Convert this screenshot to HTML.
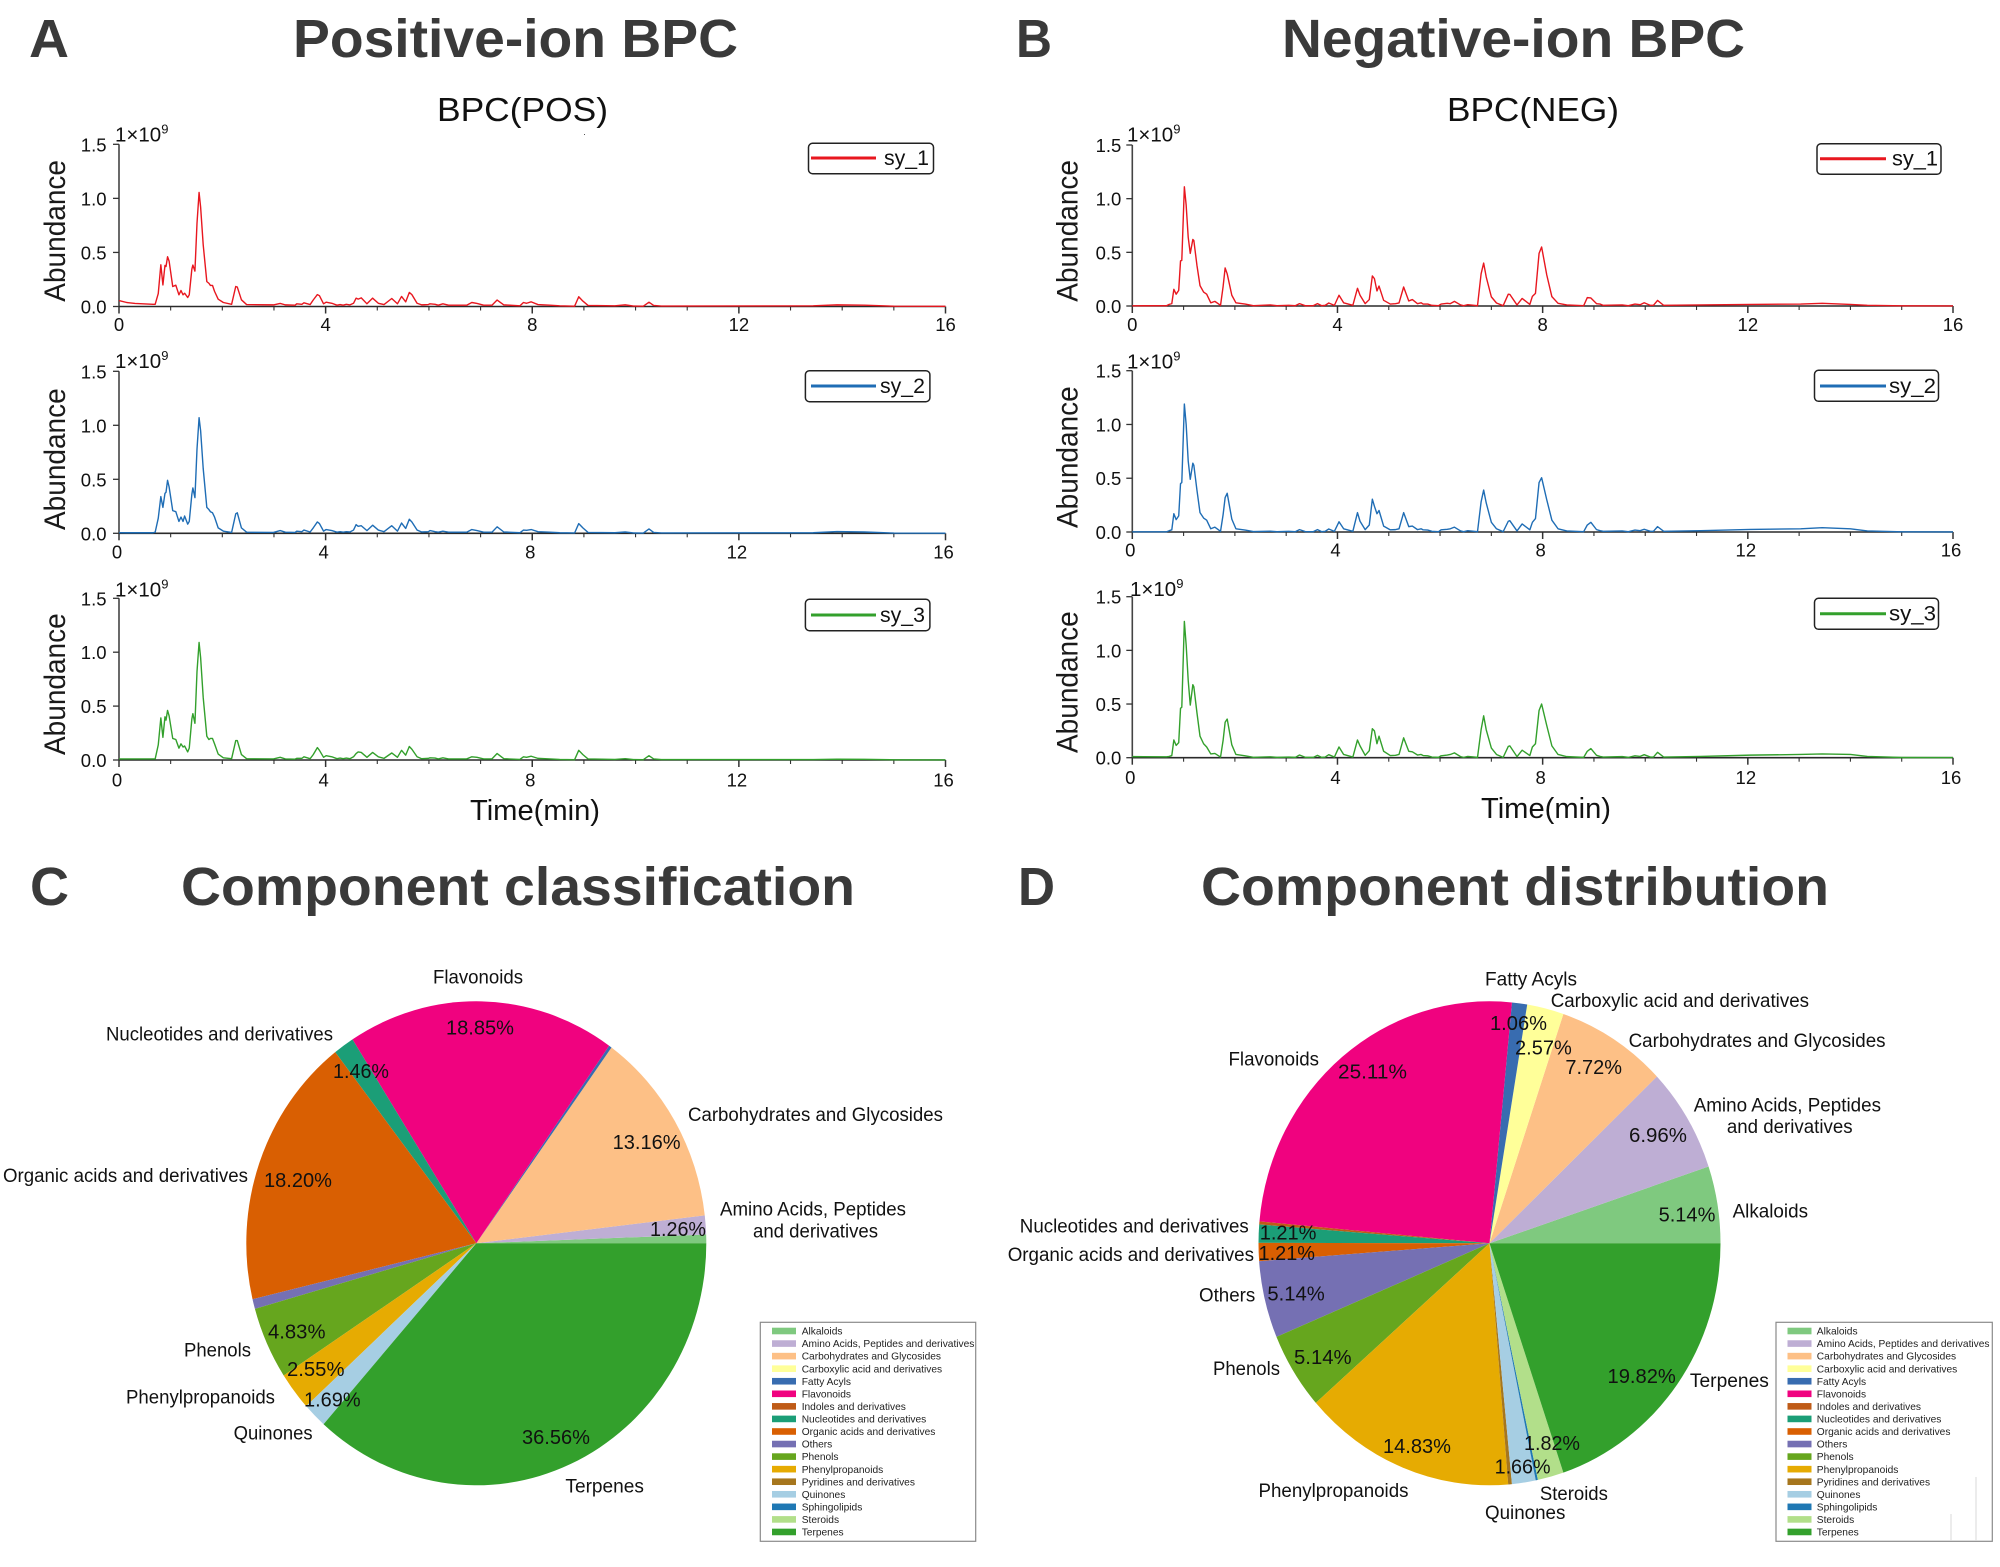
<!DOCTYPE html>
<html lang="en">
<head>
<meta charset="utf-8">
<title>BPC chromatograms and component pie charts</title>
<style>
html,body{margin:0;padding:0;background:#fff;}
svg{display:block;font-family:"Liberation Sans",Arial,sans-serif;}
.head{font-weight:700;font-size:54px;fill:#3a3a3a;}
.sub{font-size:33px;fill:#111;}
.ylab{font-size:30px;fill:#1a1a1a;}
.xlab{font-size:29px;fill:#111;}
.mult{font-size:20.5px;fill:#111;}
.leg{font-size:21px;fill:#111;}
.lab{font-size:19px;fill:#111;}
.pct{font-size:20px;fill:#111;}
</style>
</head>
<body>
<svg id="figure" xmlns="http://www.w3.org/2000/svg" width="2000" height="1567" viewBox="0 0 2000 1567">
<rect width="2000" height="1567" fill="#fff"/>

<text class="head" x="29" y="57" textLength="40" lengthAdjust="spacingAndGlyphs">A</text>
<text class="head" x="293" y="57" textLength="445" lengthAdjust="spacingAndGlyphs">Positive-ion BPC</text>
<text class="head" x="1016" y="57" textLength="36" lengthAdjust="spacingAndGlyphs">B</text>
<text class="head" x="1282" y="57" textLength="463" lengthAdjust="spacingAndGlyphs">Negative-ion BPC</text>
<text class="head" x="30" y="905" textLength="39" lengthAdjust="spacingAndGlyphs">C</text>
<text class="head" x="181" y="905" textLength="674" lengthAdjust="spacingAndGlyphs">Component classification</text>
<text class="head" x="1018" y="905" textLength="37" lengthAdjust="spacingAndGlyphs">D</text>
<text class="head" x="1201" y="905" textLength="628" lengthAdjust="spacingAndGlyphs">Component distribution</text>

<text class="sub" x="437" y="121" textLength="171" lengthAdjust="spacingAndGlyphs">BPC(POS)</text>
<text class="sub" x="1447" y="121" textLength="172" lengthAdjust="spacingAndGlyphs">BPC(NEG)</text>
<rect x="584" y="134" width="1" height="1" fill="#555"/>

<g id="axes-layer"></g>
<g id="lines-layer"></g>

<!-- y axis titles -->
<text class="ylab" transform="translate(65,301.7) rotate(-90)" textLength="141.7" lengthAdjust="spacingAndGlyphs">Abundance</text>
<text class="ylab" transform="translate(65,530) rotate(-90)" textLength="141.7" lengthAdjust="spacingAndGlyphs">Abundance</text>
<text class="ylab" transform="translate(65,755) rotate(-90)" textLength="141.7" lengthAdjust="spacingAndGlyphs">Abundance</text>
<text class="ylab" transform="translate(1077.5,301.7) rotate(-90)" textLength="141.7" lengthAdjust="spacingAndGlyphs">Abundance</text>
<text class="ylab" transform="translate(1077.5,528) rotate(-90)" textLength="141.7" lengthAdjust="spacingAndGlyphs">Abundance</text>
<text class="ylab" transform="translate(1077.5,753) rotate(-90)" textLength="141.7" lengthAdjust="spacingAndGlyphs">Abundance</text>

<!-- x axis titles -->
<text class="xlab" x="470" y="820" textLength="130" lengthAdjust="spacingAndGlyphs">Time(min)</text>
<text class="xlab" x="1481" y="818" textLength="130" lengthAdjust="spacingAndGlyphs">Time(min)</text>

<!-- scale multipliers -->
<text class="mult" x="115" y="141.5">1×10<tspan dy="-8" font-size="13">9</tspan></text>
<text class="mult" x="115" y="368">1×10<tspan dy="-8" font-size="13">9</tspan></text>
<text class="mult" x="115" y="596.7">1×10<tspan dy="-8" font-size="13">9</tspan></text>
<text class="mult" x="1127" y="141.7">1×10<tspan dy="-8" font-size="13">9</tspan></text>
<text class="mult" x="1127" y="368.3">1×10<tspan dy="-8" font-size="13">9</tspan></text>
<text class="mult" x="1130" y="596">1×10<tspan dy="-8" font-size="13">9</tspan></text>

<!-- trace legends -->
<g>
<rect x="808.5" y="143.3" width="125" height="30.4" rx="4" fill="#fff" stroke="#222" stroke-width="1.5"/>
<line x1="811" y1="158" x2="876" y2="158" stroke="#e8171f" stroke-width="3"/>
<text class="leg" x="884" y="165" textLength="45" lengthAdjust="spacingAndGlyphs">sy_1</text>
</g>
<g>
<rect x="805.4" y="370.7" width="124.5" height="31" rx="4" fill="#fff" stroke="#222" stroke-width="1.5"/>
<line x1="811" y1="386" x2="876" y2="386" stroke="#1f6db5" stroke-width="3"/>
<text class="leg" x="880" y="393" textLength="45" lengthAdjust="spacingAndGlyphs">sy_2</text>
</g>
<g>
<rect x="805.4" y="599.3" width="124.5" height="31.4" rx="4" fill="#fff" stroke="#222" stroke-width="1.5"/>
<line x1="811" y1="615" x2="876" y2="615" stroke="#33a02c" stroke-width="3"/>
<text class="leg" x="880" y="622" textLength="45" lengthAdjust="spacingAndGlyphs">sy_3</text>
</g>
<g>
<rect x="1817" y="143.7" width="124" height="30.6" rx="4" fill="#fff" stroke="#222" stroke-width="1.5"/>
<line x1="1820" y1="158.7" x2="1886" y2="158.7" stroke="#e8171f" stroke-width="3"/>
<text class="leg" x="1892" y="165.5" textLength="46" lengthAdjust="spacingAndGlyphs">sy_1</text>
</g>
<g>
<rect x="1814.5" y="370.3" width="124" height="31" rx="4" fill="#fff" stroke="#222" stroke-width="1.5"/>
<line x1="1820" y1="386" x2="1886" y2="386" stroke="#1f6db5" stroke-width="3"/>
<text class="leg" x="1889" y="393" textLength="47" lengthAdjust="spacingAndGlyphs">sy_2</text>
</g>
<g>
<rect x="1814.5" y="598.3" width="124" height="31" rx="4" fill="#fff" stroke="#222" stroke-width="1.5"/>
<line x1="1820" y1="613.7" x2="1886" y2="613.7" stroke="#33a02c" stroke-width="3"/>
<text class="leg" x="1889" y="620.7" textLength="47" lengthAdjust="spacingAndGlyphs">sy_3</text>
</g>

<g id="pie-c"></g>
<g id="pie-d"></g>

<!-- Pie C category labels -->
<g>
<text class="lab" x="433" y="983.5" textLength="90" lengthAdjust="spacingAndGlyphs">Flavonoids</text>
<text class="lab" x="106" y="1040.5" textLength="227" lengthAdjust="spacingAndGlyphs">Nucleotides and derivatives</text>
<text class="lab" x="688" y="1121" textLength="255" lengthAdjust="spacingAndGlyphs">Carbohydrates and Glycosides</text>
<text class="lab" x="3" y="1182" textLength="245" lengthAdjust="spacingAndGlyphs">Organic acids and derivatives</text>
<text class="lab" x="720" y="1215.7" textLength="186" lengthAdjust="spacingAndGlyphs">Amino Acids, Peptides</text>
<text class="lab" x="753" y="1237.4" textLength="125" lengthAdjust="spacingAndGlyphs">and derivatives</text>
<text class="lab" x="184" y="1356.7" textLength="67" lengthAdjust="spacingAndGlyphs">Phenols</text>
<text class="lab" x="126" y="1403.5" textLength="149" lengthAdjust="spacingAndGlyphs">Phenylpropanoids</text>
<text class="lab" x="233.6" y="1439.4" textLength="79" lengthAdjust="spacingAndGlyphs">Quinones</text>
<text class="lab" x="565.4" y="1492.5" textLength="78.6" lengthAdjust="spacingAndGlyphs">Terpenes</text>
</g>

<!-- Pie D category labels -->
<g>
<text class="lab" x="1485" y="985.4" textLength="92" lengthAdjust="spacingAndGlyphs">Fatty Acyls</text>
<text class="lab" x="1550.7" y="1007" textLength="258.3" lengthAdjust="spacingAndGlyphs">Carboxylic acid and derivatives</text>
<text class="lab" x="1628.6" y="1047" textLength="257" lengthAdjust="spacingAndGlyphs">Carbohydrates and Glycosides</text>
<text class="lab" x="1228.5" y="1065.4" textLength="90.5" lengthAdjust="spacingAndGlyphs">Flavonoids</text>
<text class="lab" x="1693.7" y="1111.4" textLength="187.3" lengthAdjust="spacingAndGlyphs">Amino Acids, Peptides</text>
<text class="lab" x="1726.9" y="1133" textLength="125.7" lengthAdjust="spacingAndGlyphs">and derivatives</text>
<text class="lab" x="1732.6" y="1217.7" textLength="75.4" lengthAdjust="spacingAndGlyphs">Alkaloids</text>
<text class="lab" x="1019.8" y="1232.3" textLength="229" lengthAdjust="spacingAndGlyphs">Nucleotides and derivatives</text>
<text class="lab" x="1007.7" y="1261" textLength="246.3" lengthAdjust="spacingAndGlyphs">Organic acids and derivatives</text>
<text class="lab" x="1199" y="1301.6" textLength="56.3" lengthAdjust="spacingAndGlyphs">Others</text>
<text class="lab" x="1213" y="1375" textLength="67" lengthAdjust="spacingAndGlyphs">Phenols</text>
<text class="lab" x="1689.9" y="1387" textLength="79" lengthAdjust="spacingAndGlyphs">Terpenes</text>
<text class="lab" x="1258.5" y="1497" textLength="150" lengthAdjust="spacingAndGlyphs">Phenylpropanoids</text>
<text class="lab" x="1539.9" y="1500" textLength="68" lengthAdjust="spacingAndGlyphs">Steroids</text>
<text class="lab" x="1485" y="1519" textLength="80.4" lengthAdjust="spacingAndGlyphs">Quinones</text>
</g>

<!-- Pie C percent labels -->
<g>
<text class="pct" x="446" y="1034.6" textLength="68" lengthAdjust="spacingAndGlyphs">18.85%</text>
<text class="pct" x="333" y="1078" textLength="56" lengthAdjust="spacingAndGlyphs">1.46%</text>
<text class="pct" x="612.6" y="1148.8" textLength="68" lengthAdjust="spacingAndGlyphs">13.16%</text>
<text class="pct" x="264" y="1187" textLength="68" lengthAdjust="spacingAndGlyphs">18.20%</text>
<text class="pct" x="650" y="1236" textLength="56" lengthAdjust="spacingAndGlyphs">1.26%</text>
<text class="pct" x="268" y="1338.6" textLength="57.5" lengthAdjust="spacingAndGlyphs">4.83%</text>
<text class="pct" x="287" y="1376" textLength="57.5" lengthAdjust="spacingAndGlyphs">2.55%</text>
<text class="pct" x="304" y="1406.7" textLength="56.6" lengthAdjust="spacingAndGlyphs">1.69%</text>
<text class="pct" x="522" y="1444" textLength="68" lengthAdjust="spacingAndGlyphs">36.56%</text>
</g>

<!-- Pie D percent labels -->
<g>
<text class="pct" x="1490" y="1030" textLength="57" lengthAdjust="spacingAndGlyphs">1.06%</text>
<text class="pct" x="1515" y="1054.3" textLength="56.8" lengthAdjust="spacingAndGlyphs">2.57%</text>
<text class="pct" x="1565.4" y="1074" textLength="56.6" lengthAdjust="spacingAndGlyphs">7.72%</text>
<text class="pct" x="1338" y="1078.3" textLength="69" lengthAdjust="spacingAndGlyphs">25.11%</text>
<text class="pct" x="1629" y="1142" textLength="58" lengthAdjust="spacingAndGlyphs">6.96%</text>
<text class="pct" x="1658.6" y="1221.7" textLength="56.8" lengthAdjust="spacingAndGlyphs">5.14%</text>
<text class="pct" x="1259.7" y="1239.4" textLength="56.8" lengthAdjust="spacingAndGlyphs">1.21%</text>
<text class="pct" x="1258.5" y="1260" textLength="56.5" lengthAdjust="spacingAndGlyphs">1.21%</text>
<text class="pct" x="1267.4" y="1300.4" textLength="57.4" lengthAdjust="spacingAndGlyphs">5.14%</text>
<text class="pct" x="1294" y="1364" textLength="57.6" lengthAdjust="spacingAndGlyphs">5.14%</text>
<text class="pct" x="1607.5" y="1383" textLength="68.3" lengthAdjust="spacingAndGlyphs">19.82%</text>
<text class="pct" x="1383" y="1452.8" textLength="68" lengthAdjust="spacingAndGlyphs">14.83%</text>
<text class="pct" x="1524" y="1450" textLength="56" lengthAdjust="spacingAndGlyphs">1.82%</text>
<text class="pct" x="1494.6" y="1473.6" textLength="56" lengthAdjust="spacingAndGlyphs">1.66%</text>
</g>

<g id="pie-legend-c"></g>
<g id="pie-legend-d"></g>
<line x1="1976" y1="1477" x2="1976" y2="1541" stroke="#d9d9d9" stroke-width="1"/>
<line x1="1951" y1="1514" x2="1951" y2="1541" stroke="#d9d9d9" stroke-width="1"/>
</svg>

<script>
var xTickValues = [0,1,2,3,4,5,6,7,8,9,10,11,12,13,14,15,16];
var xTickLabelValues = [0,4,8,12,16];
var yTickValues = [0,0.5,1,1.5];
var yTickLabels = ['0.0','0.5','1.0','1.5'];

var timePos = [
0,.15,.31,.66,.70,.76,.81,.85,.89,.91,
.94,.97,1.04,1.10,1.16,1.20,1.24,1.27,1.33,1.36,
1.41,1.43,1.47,1.51,1.55,1.58,1.63,1.70,1.74,1.77,
1.81,1.85,1.92,2.02,2.18,2.26,2.29,2.37,2.47,2.99,
3.12,3.22,3.41,3.44,3.54,3.58,3.70,3.76,3.84,3.88,
3.96,4.01,4.12,4.22,4.28,4.34,4.40,4.47,4.54,4.59,
4.63,4.69,4.80,4.91,5.02,5.13,5.28,5.39,5.47,5.55,
5.62,5.67,5.77,5.86,5.99,6.02,6.12,6.18,6.27,6.38,
6.73,6.83,6.93,7.06,7.22,7.32,7.45,7.76,7.83,7.89,
7.98,8.11,8.34,8.53,8.82,8.90,8.98,9.08,9.60,9.80,
9.96,10.15,10.26,10.35,10.50,13.44,13.90,14.43,15.00,16.00];

var posSy1 = [
.055,.037,.028,.02,.02,.12,.385,.20,.38,.37,
.46,.42,.185,.197,.108,.148,.108,.123,.083,.108,
.345,.383,.327,.77,1.055,.92,.57,.23,.215,.195,
.195,.14,.068,.037,.02,.185,.18,.062,.018,.015,
.028,.015,.012,.025,.02,.034,.018,.06,.11,.10,
.025,.04,.03,.012,.018,.012,.02,.015,.03,.077,
.068,.08,.025,.077,.03,.018,.074,.025,.093,.043,
.13,.11,.03,.015,.018,.025,.02,.012,.025,.012,
.012,.037,.028,.012,.012,.06,.015,.006,.037,.03,
.043,.018,.012,.006,.003,.09,.05,.01,.006,.015,
.004,.003,.04,.01,.004,.006,.015,.012,.003,.002];

var posSy2 = [
.006,.005,.005,.005,.01,.14,.34,.24,.37,.38,
.49,.43,.21,.20,.11,.15,.11,.16,.085,.11,
.36,.42,.33,.78,1.07,.95,.60,.24,.22,.20,
.19,.15,.05,.02,.008,.18,.19,.05,.01,.008,
.025,.01,.008,.02,.015,.03,.012,.05,.105,.09,
.02,.035,.025,.01,.015,.01,.015,.012,.03,.08,
.065,.07,.025,.075,.03,.015,.07,.02,.095,.045,
.13,.105,.03,.012,.015,.025,.015,.01,.02,.01,
.01,.035,.025,.01,.01,.06,.012,.005,.03,.028,
.035,.015,.01,.005,.003,.09,.05,.008,.005,.012,
.003,.002,.04,.008,.003,.005,.016,.012,.002,.001];

var posSy3 = [
.01,.01,.01,.01,.01,.14,.39,.21,.40,.37,
.46,.41,.20,.19,.11,.15,.12,.13,.075,.11,
.38,.43,.34,.82,1.09,.95,.58,.22,.19,.20,
.20,.15,.055,.02,.012,.18,.18,.05,.012,.01,
.025,.01,.008,.015,.015,.03,.012,.05,.115,.09,
.025,.04,.03,.012,.018,.012,.018,.012,.03,.06,
.075,.07,.025,.07,.03,.015,.065,.025,.09,.045,
.125,.10,.03,.012,.015,.02,.018,.01,.02,.01,
.01,.03,.025,.01,.01,.06,.012,.005,.03,.025,
.035,.015,.01,.005,.003,.09,.05,.01,.005,.012,
.004,.003,.04,.01,.004,.004,.008,.006,.002,.001];

var timeNeg = [
0,.67,.72,.77,.81,.855,.905,.94,.965,1.015,
1.05,1.09,1.13,1.18,1.20,1.26,1.32,1.39,1.45,1.53,
1.61,1.72,1.77,1.81,1.85,1.94,2.02,2.20,2.36,2.69,
2.82,3.05,3.18,3.26,3.37,3.53,3.61,3.69,3.76,3.83,
3.94,4.03,4.12,4.30,4.39,4.44,4.54,4.62,4.68,4.72,
4.77,4.81,4.90,5.03,5.13,5.20,5.29,5.39,5.46,5.56,
5.63,5.67,5.76,5.84,5.97,6.02,6.14,6.20,6.28,6.40,
6.46,6.54,6.73,6.80,6.85,6.90,7.00,7.10,7.23,7.33,
7.36,7.50,7.60,7.75,7.80,7.86,7.93,7.98,8.08,8.18,
8.30,8.47,8.80,8.87,8.94,9.05,9.12,9.18,9.55,9.67,
9.80,9.90,9.98,10.10,10.16,10.24,10.36,11.08,12.05,13.03,
13.45,14.00,14.33,15.00,16.00];

var negSy1 = [
.002,.003,.015,.022,.155,.11,.146,.42,.425,1.11,
.94,.64,.49,.62,.61,.38,.19,.13,.11,.03,
.043,.006,.18,.354,.30,.10,.03,.018,.003,.01,
.003,.006,.003,.022,.003,.003,.022,.003,.006,.028,
.006,.10,.03,.006,.165,.10,.022,.06,.28,.255,
.14,.186,.053,.018,.022,.028,.177,.047,.06,.022,
.03,.018,.018,.006,.003,.018,.025,.022,.043,.01,
.003,.012,.003,.30,.40,.27,.085,.028,.003,.11,
.108,.01,.07,.015,.09,.118,.49,.55,.29,.087,
.025,.01,.003,.078,.075,.022,.018,.006,.01,.003,
.018,.012,.03,.006,.006,.052,.006,.01,.015,.018,
.025,.015,.006,.002,.001];

var negSy2 = [
.002,.002,.012,.02,.17,.115,.15,.45,.46,1.19,
1.0,.66,.49,.64,.62,.39,.18,.13,.11,.03,
.045,.006,.16,.32,.36,.12,.03,.018,.004,.008,
.003,.006,.003,.022,.004,.003,.022,.003,.006,.028,
.006,.095,.03,.006,.18,.10,.022,.065,.305,.24,
.17,.20,.055,.02,.022,.03,.18,.05,.055,.022,
.03,.02,.018,.006,.003,.02,.025,.03,.045,.01,
.003,.012,.003,.28,.39,.27,.09,.03,.003,.10,
.105,.01,.075,.02,.09,.125,.46,.505,.30,.11,
.03,.01,.003,.065,.09,.022,.012,.006,.01,.003,
.018,.012,.025,.006,.006,.05,.006,.012,.024,.03,
.04,.03,.01,.002,.001];

var negSy3 = [
.01,.008,.012,.02,.165,.115,.14,.46,.47,1.27,
1.05,.72,.49,.68,.66,.42,.20,.13,.10,.035,
.04,.006,.16,.33,.36,.12,.03,.018,.004,.008,
.003,.006,.003,.025,.004,.003,.022,.003,.006,.028,
.006,.10,.03,.006,.165,.11,.022,.065,.27,.25,
.13,.20,.06,.02,.022,.03,.185,.06,.055,.025,
.03,.02,.018,.006,.003,.018,.025,.03,.045,.01,
.003,.012,.003,.26,.39,.26,.09,.03,.003,.105,
.11,.01,.07,.02,.10,.13,.44,.50,.30,.11,
.03,.01,.003,.06,.085,.022,.012,.006,.01,.003,
.018,.012,.028,.006,.006,.05,.006,.012,.024,.03,
.035,.03,.012,.002,.001];

var categories = ['Alkaloids','Amino Acids, Peptides and derivatives','Carbohydrates and Glycosides','Carboxylic acid and derivatives','Fatty Acyls','Flavonoids','Indoles and derivatives','Nucleotides and derivatives','Organic acids and derivatives','Others','Phenols','Phenylpropanoids','Pyridines and derivatives','Quinones','Sphingolipids','Steroids','Terpenes'];
var classificationValues = [0.58,1.26,13.16,0,0.2,18.85,0,1.46,18.20,0.66,4.83,2.55,0,1.69,0,0,36.56];
var distributionValues = [5.14,6.96,7.72,2.57,1.06,25.11,0.2,1.21,1.21,5.14,5.14,14.83,0.26,1.66,0.15,1.82,19.82];
var categoryColors = ['#7fc97f','#beaed4','#fdc086','#ffff99','#386cb0','#f0027f','#bf5b17','#1b9e77','#d95f02','#7570b3','#66a61e','#e6ab02','#a6761d','#a6cee3','#1f78b4','#b2df8a','#33a02c'];

var SVGNS = 'http://www.w3.org/2000/svg';
function make(tag, attrs, parent){
  var el = document.createElementNS(SVGNS, tag);
  for (var k in attrs) el.setAttribute(k, attrs[k]);
  parent.appendChild(el);
  return el;
}

function drawChromatogram(cfg){
  var axes = document.getElementById('axes-layer');
  var lines = document.getElementById('lines-layer');
  function xScale(t){ return cfg.left + (cfg.right - cfg.left) * t / 16; }
  function yScale(v){ return cfg.bottom - (cfg.bottom - cfg.top) * v / 1.5; }

  var yAxis = make('line', {x1:xScale(0), x2:xScale(0), y1:yScale(1.5), y2:yScale(0), stroke:'#444', 'stroke-width':1.6}, axes);
  
  

  yTickValues.forEach(function(v, i){
    var tick = make('line', {x1:xScale(0) - 6, x2:xScale(0), y1:yScale(v), y2:yScale(v), stroke:'#333', 'stroke-width':1.3}, axes);
    
    
    var label = make('text', {x:xScale(0) - cfg.yLabelGap, y:yScale(v) + 7, 'text-anchor':'end', 'font-size':18.5, fill:'#111'}, axes);
    label.textContent = yTickLabels[i];
    
    
  });

  xTickValues.forEach(function(t){
    var major = t % 4 === 0;
    var tick = make('line', {x1:xScale(t), x2:xScale(t), y1:yScale(0), y2:yScale(0) + (major ? 7 : 4), stroke:'#333', 'stroke-width':major ? 1.5 : 1.1}, axes);
    
    
  });
  xTickLabelValues.forEach(function(t){
    var label = make('text', {x:xScale(t) + cfg.xLabelShift, y:cfg.xLabelY, 'text-anchor':'middle', 'font-size':18.5, fill:'#111'}, axes);
    label.textContent = String(t);
    
    
  });

  var d = cfg.time.map(function(t, i){
    return (i ? 'L' : 'M') + xScale(t).toFixed(2) + ' ' + yScale(cfg.values[i]).toFixed(2);
  }).join('');
  var path = make('path', {d:d, fill:'none', stroke:cfg.color, 'stroke-width':1.4, 'stroke-linejoin':'round'}, lines);
  
  

  var xAxis = make('line', {x1:xScale(0), x2:xScale(16), y1:yScale(0), y2:yScale(0), stroke:'#2a2a2a', 'stroke-width':1.6}, axes);
  
  
}

drawChromatogram({id:'a1', left:119, right:945.5, top:144.3, bottom:306.5, xLabelY:331, xLabelShift:0, yLabelGap:12.5, color:'#e8171f', time:timePos, values:posSy1});
drawChromatogram({id:'a2', left:119, right:945.5, top:371.3, bottom:533.3, xLabelY:558.3, xLabelShift:-2, yLabelGap:12.5, color:'#1f6db5', time:timePos, values:posSy2});
drawChromatogram({id:'a3', left:119, right:945.5, top:598.3, bottom:760, xLabelY:786.7, xLabelShift:-2, yLabelGap:12.5, color:'#33a02c', time:timePos, values:posSy3});
drawChromatogram({id:'b1', left:1132.3, right:1953, top:145, bottom:306, xLabelY:331, xLabelShift:0, yLabelGap:11, color:'#e8171f', time:timeNeg, values:negSy1});
drawChromatogram({id:'b2', left:1132.3, right:1953, top:370.7, bottom:532, xLabelY:556.7, xLabelShift:-2, yLabelGap:11, color:'#1f6db5', time:timeNeg, values:negSy2});
drawChromatogram({id:'b3', left:1132.3, right:1953, top:596.7, bottom:757.7, xLabelY:784, xLabelShift:-2, yLabelGap:11, color:'#33a02c', time:timeNeg, values:negSy3});

function drawPie(groupId, values, cx, cy, rx, ry){
  var group = document.getElementById(groupId);
  var total = values.reduce(function(a, b){ return a + b; }, 0);
  var cumulative = 0;
  values.forEach(function(v, i){
    if (v <= 0) return;
    var a0 = cumulative / total * 2 * Math.PI;
    cumulative += v;
    var a1 = cumulative / total * 2 * Math.PI;
    var large = (a1 - a0) > Math.PI ? 1 : 0;
    var d = 'M' + cx + ' ' + cy +
      'L' + (cx + rx * Math.cos(a0)).toFixed(2) + ' ' + (cy - ry * Math.sin(a0)).toFixed(2) +
      'A' + rx + ' ' + ry + ' 0 ' + large + ' 0 ' + (cx + rx * Math.cos(a1)).toFixed(2) + ' ' + (cy - ry * Math.sin(a1)).toFixed(2) + 'Z';
    var slice = make('path', {d:d, fill:categoryColors[i]}, group);
    
    
  });
}
drawPie('pie-c', classificationValues, 476.3, 1243.3, 230, 242);
drawPie('pie-d', distributionValues, 1489.5, 1243.3, 231, 242);

function drawPieLegend(groupId, boxX, boxWidth, swatchX, textX){
  var group = document.getElementById(groupId);
  var box = make('rect', {x:boxX, y:1322.3, width:boxWidth, height:219, fill:'#fff', stroke:'#8a8a8a', 'stroke-width':1.2}, group);
  
  
  categories.forEach(function(name, i){
    var cy = 1331 + i * 12.56;
    var swatch = make('rect', {x:swatchX, y:cy - 3.3, width:24, height:6.6, fill:categoryColors[i]}, group);
    
    
    var label = make('text', {x:textX, y:cy + 3.6, 'font-size':10.2, fill:'#222'}, group);
    label.textContent = name;
    
    
  });
}
drawPieLegend('pie-legend-c', 760.3, 215.4, 772, 801.7);
drawPieLegend('pie-legend-d', 1776, 216.3, 1787.5, 1816.8);
</script>
</body>
</html>
